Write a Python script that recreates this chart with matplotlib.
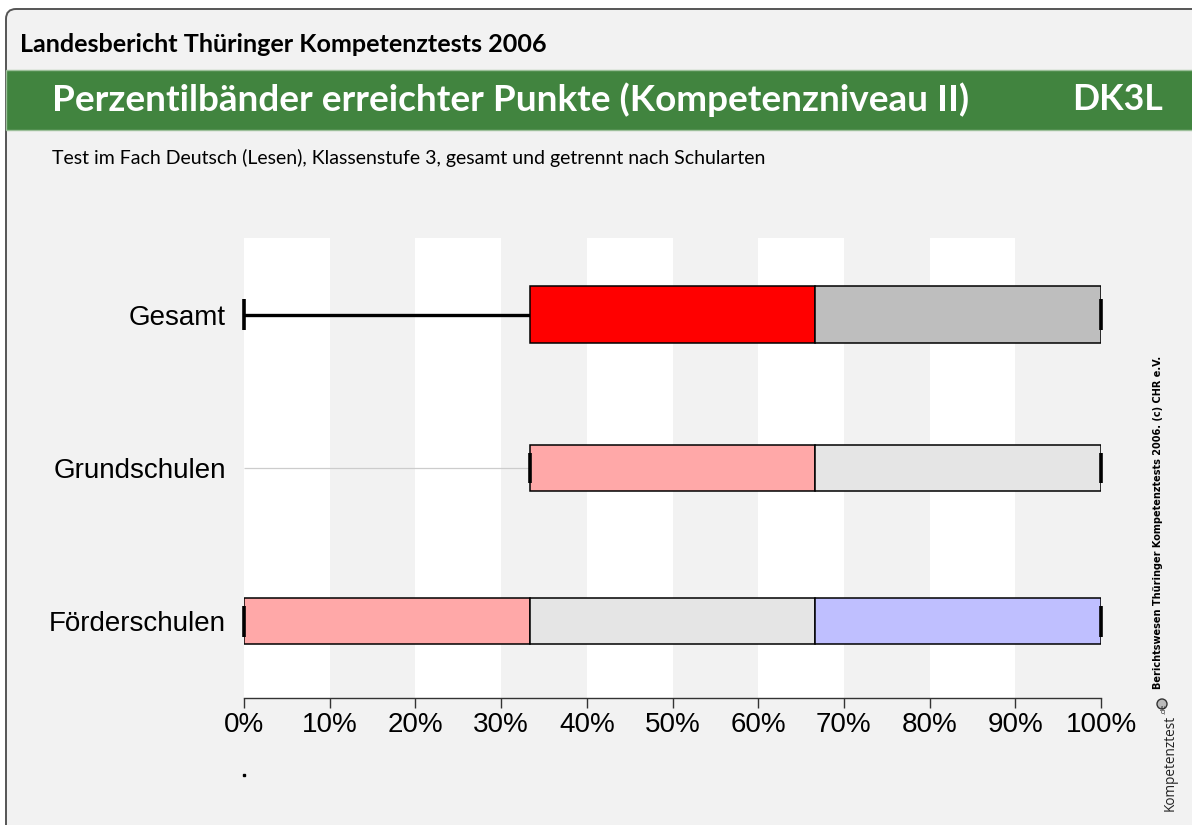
import matplotlib
matplotlib.use("Agg")
import matplotlib.pyplot as plt
from matplotlib.patches import FancyBboxPatch, Rectangle, Circle

# ---------------- data ----------------
categories = ["Gesamt", "Grundschulen", "Förderschulen"]
p_min = [0.0, 0.0, 0.0]
p05 = [0.0, 33.33, 0.0]
p25 = [33.33, 33.33, 0.0]
p50 = [66.67, 66.67, 33.33]
p75 = [100.0, 100.0, 66.67]
p95 = [100.0, 100.0, 100.0]
highlight = [True, False, False]
xticks = [0, 10, 20, 30, 40, 50, 60, 70, 80, 90, 100]
xticklabels = ["0%", "10%", "20%", "30%", "40%", "50%", "60%", "70%", "80%", "90%", "100%"]

header = "Landesbericht Thüringer Kompetenztests 2006"
title = "Perzentilbänder erreichter Punkte (Kompetenzniveau II)"
code = "DK3L"
subtitle = "Test im Fach Deutsch (Lesen), Klassenstufe 3, gesamt und getrennt nach Schularten"
credit = "Berichtswesen Thüringer Kompetenztests 2006. (c) CHR e.V."

# ---------------- styles ----------------
W, H = 1192, 825
BG = "#f2f2f2"
GREEN = "#41843f"
strong_cols = ["#ff0000", "#bebebe", "#0000ff"]
pale_cols = ["#ffa8a8", "#e5e5e5", "#bfbfff"]

fig = plt.figure(figsize=(W / 100, H / 100), dpi=100, facecolor="white")

# background overlay axes in pixel coordinates
bg = fig.add_axes([0, 0, 1, 1], zorder=-5)
bg.set_xlim(0, W)
bg.set_ylim(H, 0)
bg.axis("off")
bg.add_patch(FancyBboxPatch((6, 9), W + 40, H + 40,
                            boxstyle="round,pad=0,rounding_size=10",
                            facecolor=BG, edgecolor="#555555", lw=1.4))
bg.add_patch(Rectangle((6, 70), W, 60, facecolor=GREEN, edgecolor="#9cbf9a", lw=1.0))

renderer = fig.canvas.get_renderer()


def fit(t, target, vertical=False):
    bb = t.get_window_extent(renderer)
    cur = bb.height if vertical else bb.width
    t.set_fontsize(t.get_fontsize() * target / cur)


t1 = bg.text(20, 44, header, fontsize=14, fontweight="bold", family="Lato",
             va="center", ha="left", color="black")
fit(t1, 530)
t2 = bg.text(52, 100, title, fontsize=24, fontweight="bold", family="Lato",
             va="center", ha="left", color="white")
fit(t2, 918)
t3 = bg.text(1163, 100, code, fontsize=24, fontweight="bold", family="Lato",
             va="center", ha="right", color="white")
fit(t3, 91)
t4 = bg.text(52, 158, subtitle, fontsize=11, family="Lato",
             va="center", ha="left", color="black")
fit(t4, 714)
t5 = bg.text(1158, 522, credit, fontsize=7, fontweight="bold", family="DejaVu Sans",
             rotation=90, va="center", ha="center", color="black")
fit(t5, 335, vertical=True)
t6 = bg.text(1170, 811, "Kompetenztest", fontsize=11, family="Open Sans",
             rotation=90, va="bottom", ha="center", color="#222222")
fit(t6, 96, vertical=True)
bg.text(1164, 714, ".de", fontsize=5, family="Open Sans", rotation=90,
        va="bottom", ha="center", color="#222222")
bg.add_patch(Circle((1162, 704), 5, facecolor="#bbbbbb", edgecolor="#333333", lw=1))

# ---------------- main axes ----------------
x0, x1 = 244, 1101
y_top, y_bot = 238, 698
ax = fig.add_axes([x0 / W, 1 - y_bot / H, (x1 - x0) / W, (y_bot - y_top) / H])
ax.set_facecolor("none")
ax.set_xlim(0, 100)
ax.set_ylim(2.5, -0.5)

for s in range(0, 100, 20):
    ax.axvspan(s, s + 10, color="white", lw=0, zorder=0)

for i, cat in enumerate(categories):
    hl = highlight[i]
    h = 0.37 if hl else 0.30
    cols = strong_cols if hl else pale_cols
    # thin min line
    ax.plot([p_min[i], p05[i]], [i, i], color="#cccccc", lw=0.9, zorder=1, solid_capstyle="butt")
    # whiskers
    ax.plot([p05[i], p25[i]], [i, i], color="black", lw=2.4, zorder=2, solid_capstyle="butt")
    ax.plot([p75[i], p95[i]], [i, i], color="black", lw=2.4, zorder=2, solid_capstyle="butt")
    # bands
    segs = [(p25[i], p50[i]), (p50[i], p75[i]), (p75[i], p95[i])]
    for (a, b), c in zip(segs, cols):
        if b - a > 0:
            ax.add_patch(Rectangle((a, i - h / 2), b - a, h, facecolor=c,
                                   edgecolor="black", lw=1.1, zorder=3))
    # end ticks
    for v in (p05[i], p95[i]):
        ax.plot([v, v], [i - 0.1, i + 0.1], color="black", lw=2.6, zorder=4,
                solid_capstyle="butt", clip_on=False)

ax.plot([0], [3.0], marker="s", ms=1.5, color="black", clip_on=False)

ax.set_yticks(range(len(categories)))
ax.set_yticklabels(categories, family="Liberation Sans", fontsize=20)
ax.tick_params(axis="y", length=0, pad=13)
ax.set_xticks(xticks)
ax.set_xticklabels(xticklabels, family="Liberation Sans", fontsize=20)
ax.tick_params(axis="x", length=7, width=1, color="#333333", pad=3)
for sp in ("top", "right", "left"):
    ax.spines[sp].set_visible(False)
ax.spines["bottom"].set_color("#333333")
ax.spines["bottom"].set_linewidth(1)

fig.savefig("out.png", dpi=100, facecolor="white")
